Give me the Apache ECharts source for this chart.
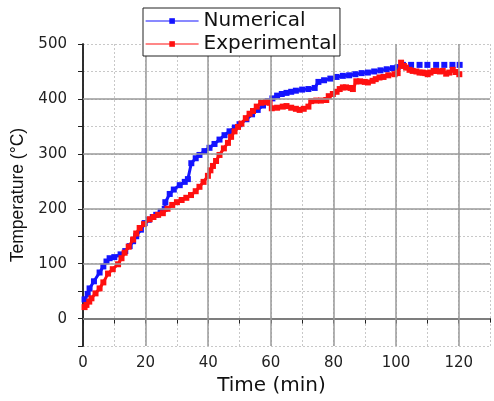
<!DOCTYPE html>
<html><head><meta charset="utf-8">
<script src="https://cdn.jsdelivr.net/npm/echarts@6/dist/echarts.min.js"></script>
<style>html,body{margin:0;padding:0;background:#fff}#c{width:494px;height:401px}</style>
</head><body><div id="c"></div>
<script>
// Numerical (dense part)
const numTime = [0.5,1.5,2.1,3.5,5.3,6.5,7.5,8.5,10,12,13.5,14.9,16,17,18.5,19.7,21,22.3,23.4,24.8,26.1,26.3,27.7,29,30.9,32.5,33.5,34.6,36,37.2,38.8,40.4,42,43.6,45.2,46.8,48.5,50,52.2,54,55.8,57.5,59,60.5,62,63.5,65,66.5,68,70,72,74,75.2,77,79,81,83,85,87,89,91,93,95,97,99,100.5];
const numTemp = [35,45,55,68,84,95,104,110,112,117,123,132,141,150,162,174,180,185,189,195,200,212,227,235,243,249,254,283,292,298,305,311,318,326,334,341,348,354,363,372,380,388,396,401,406,409,411,413,415,417,418,420,431,434,437,440,442,443,445,447,448,450,452,454,456,458];
// Numerical (sparse tail)
const numTimeTail = [102.2,104.8,107.5,110,112.8,115.4,118,120.3];
const numTempTail = [462,462,462,462,462,462,462,462];
// Experimental
const expTime = [0.5,1.1,2,2.7,4,5.3,6.5,8,9.5,11.2,12.3,13.3,14.6,16,17,18.1,19.5,21.3,22.5,24,25.5,27,28.5,30,31.5,33,34.5,36,37.2,38.5,39.9,40.7,41.5,42.5,43.6,45,46.3,47.3,48.4,49.5,50.6,52,53.2,54.3,55.5,56.9,58.5,59.6,60.3,62,63.8,65,66.5,68,69.2,70.5,72,72.9,74.5,76,77.7,78.5,79.8,81,82,83,84,85.5,86.2,87.3,88.5,90,91,92.5,93.5,94.7,96,97.5,99.5,100.5,101.6,102.5,103.2,104.3,105.3,106.5,107.5,108.5,109.3,110.1,111,112,112.8,114,114.9,116,117,118.1,119,120.2];
const expTemp = [21,25,31,37,46,55,66,82,90,99,110,120,131,144,155,165,172,181,185,189,192,200,207,212,216,220,225,232,240,249,260,270,278,287,298,310,320,331,341,349,355,365,373,378,386,393,394,393,383,384,386,387,384,382,380,382,386,396,397,397,398,405,409,413,418,421,421,420,418,432,432,431,430,433,436,439,440,443,445,447,466,460,457,453,451,450,448,448,447,445,448,451,451,450,451,446,448,453,449,445];
const xMajorTicks = [20,40,60,80,100,120];
const yMajorTicks = [0,100,200,300,400];

const pairs = (a,b) => a.map((v,i)=>[v,b[i]]);
const chart = echarts.init(document.getElementById('c'), null, {renderer:'canvas'});
const tickFont = {fontFamily:'DejaVu Sans', fontSize:15, color:'#222'};
const gridMajor = {color:'#9a9a9a', width:1.5, type:'solid'};
chart.setOption({
  animation:false,
  backgroundColor:'#fff',
  grid:{left:83, right:4, top:44, bottom:48},
  legend:{
    data:['Numerical','Experimental'], orient:'vertical', left:143, top:8, z:20,
    itemWidth:53, itemHeight:7, itemGap:3, padding:[3,3,2,2],
    textStyle:{fontFamily:'DejaVu Sans', fontSize:20, color:'#111', lineHeight:20},
    backgroundColor:'#fff', borderColor:'#222', borderWidth:1,
    lineStyle:{width:1.2}
  },
  xAxis:[{
    type:'value', min:0, max:130, interval:10,
    axisLine:{lineStyle:{color:'#222', width:1.5}},
    axisTick:{length:5, lineStyle:{color:'#222'}},
    axisLabel:Object.assign({margin:10, showMaxLabel:false,
      formatter:v=> (v%20===0 && v<=120) ? String(v) : ''}, tickFont),
    splitLine:{show:true, lineStyle:{color:'#c8c8c8', width:1, type:[2,2]}},
    name:'Time (min)', nameLocation:'middle', nameGap:29,
    nameTextStyle:{fontFamily:'DejaVu Sans', fontSize:20, color:'#111', padding:[0,30,0,0]}
  },{
    type:'value', position:'top', min:0, max:130, interval:10,
    axisLine:{lineStyle:{color:'#222', width:1.5}},
    axisTick:{inside:true, length:4, lineStyle:{color:'#222'}},
    axisLabel:{show:false}, splitLine:{show:false}
  }],
  yAxis:[{
    type:'value', min:-50, max:500, interval:50,
    axisLine:{show:true, lineStyle:{color:'#222', width:1.5}},
    axisTick:{show:true, length:5, lineStyle:{color:'#222'}},
    axisLabel:Object.assign({margin:16, formatter:v=> (v%100===0) ? String(v) : ''}, tickFont),
    splitLine:{show:true, lineStyle:{color:'#c8c8c8', width:1, type:[2,2]}},
    name:'Temperature (°C)', nameLocation:'middle', nameGap:54,
    nameTextStyle:{fontFamily:'Liberation Sans', fontSize:17.5, color:'#111'}
  },{
    type:'value', position:'right', min:-50, max:500, interval:50,
    axisLine:{show:true, lineStyle:{color:'#222', width:1.5}},
    axisTick:{show:true, inside:true, length:4, lineStyle:{color:'#222'}},
    axisLabel:{show:false}, splitLine:{show:false}
  }],
  series:[
    {type:'line', name:'gridHelper', data:pairs(numTime,numTemp), z:1, silent:true,
      showSymbol:false, symbol:'none', lineStyle:{opacity:0, width:0},
      markLine:{silent:true, symbol:'none', label:{show:false}, lineStyle:gridMajor, animation:false,
        data: xMajorTicks.map(v=>({xAxis:v})).concat(yMajorTicks.map(v=>({yAxis:v})))}},
    {type:'line', name:'Numerical', data:pairs(numTime,numTemp), z:3,
      symbol:'rect', symbolSize:6, showAllSymbol:true, showSymbol:true,
      itemStyle:{color:'#1414ff'}, lineStyle:{color:'#1414ff', width:3}},
    {type:'line', name:'Numerical', data:pairs(numTimeTail,numTempTail), z:3,
      symbol:'rect', symbolSize:6, showAllSymbol:true, showSymbol:true,
      itemStyle:{color:'#1414ff'}, lineStyle:{width:0, opacity:0}},
    {type:'line', name:'Experimental', data:pairs(expTime,expTemp), z:4,
      symbol:'rect', symbolSize:6, showAllSymbol:true, showSymbol:true,
      itemStyle:{color:'#ff1010'}, lineStyle:{color:'#ff1010', width:3}}
  ]
});
</script></body></html>
